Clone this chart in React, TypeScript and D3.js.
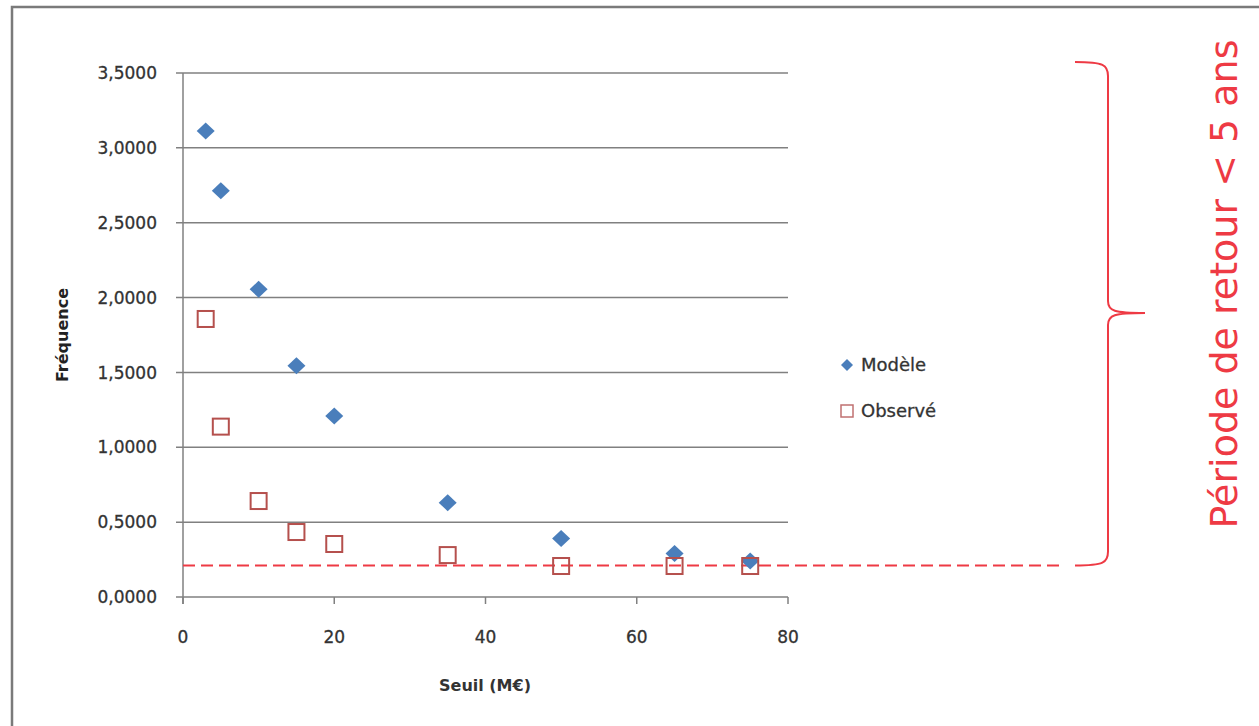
import React from "react";
import * as d3 from "d3";

// Seuil (M€) and the frequencies of each series
const seuils = [3, 5, 10, 15, 20, 35, 50, 65, 75];
const modele = [3.113, 2.714, 2.055, 1.545, 1.209, 0.63, 0.39, 0.29, 0.24];
const observe = [1.857, 1.138, 0.641, 0.434, 0.354, 0.28, 0.207, 0.207, 0.207];
const yTicks = [0, 0.5, 1, 1.5, 2, 2.5, 3, 3.5];
const xTicks = [0, 20, 40, 60, 80];
const seuilFrequence = 0.21; // frequency for a 5-year return period
const seriesNames = ["Modèle", "Observé"];
const annotation = "Période de retour < 5 ans";

const W = 1259;
const H = 726;
const FONT = "'DejaVu Sans', sans-serif";
const BLUE = "#4a7ebb";
const BROWN = "#b5504d";
const RED = "#ee3a44";
const GRID = "#808080";
const TEXT = "#333333";

const fmt = (v: number) => d3.format(".4f")(v).replace(".", ",");

export default function App() {
  const x = d3.scaleLinear().domain([0, 80]).range([183, 788]);
  const y = d3.scaleLinear().domain([0, 3.5]).range([597, 73]);

  const diamond = (cx: number, cy: number, w: number, h: number) =>
    `M${cx},${cy - h / 2}L${cx + w / 2},${cy}L${cx},${cy + h / 2}L${cx - w / 2},${cy}Z`;

  // right curly brace spanning from the top of the plot down to the threshold line
  const bTop = 62;
  const bBot = y(seuilFrequence);
  const bMid = 313;
  const bx0 = 1075;
  const bx1 = 1108;
  const bTip = 1145;
  const brace = d3.path();
  brace.moveTo(bx0, bTop);
  brace.bezierCurveTo(bx1 - 4, bTop, bx1, bTop + 3, bx1, bTop + 14);
  brace.lineTo(bx1, bMid - 12);
  brace.bezierCurveTo(bx1, bMid - 2, bx1 + 6, bMid, bTip, bMid);
  brace.bezierCurveTo(bx1 + 6, bMid, bx1, bMid + 2, bx1, bMid + 12);
  brace.lineTo(bx1, bBot - 14);
  brace.bezierCurveTo(bx1, bBot - 3, bx1 - 4, bBot, bx0, bBot);

  return (
    <svg
      width={W}
      height={H}
      style={{ position: "absolute", left: 0, top: 0, background: "#fff" }}
      fontFamily={FONT}
    >
      <rect x={0} y={0} width={W} height={H} fill="#fff" />
      {/* chart frame */}
      <path d={`M12,${H + 5}L12,7L${W + 5},7`} fill="none" stroke="#7a7a7a" strokeWidth={2.5} />

      {/* horizontal gridlines and y ticks */}
      {yTicks.map((t) => (
        <g key={`y${t}`}>
          <line x1={176} x2={x(80)} y1={y(t)} y2={y(t)} stroke={GRID} strokeWidth={1.5} />
          <text
            x={157}
            y={y(t)}
            dy="0.36em"
            textAnchor="end"
            fontSize={17}
            fill={TEXT}
            stroke={TEXT}
            strokeWidth={0.3}
          >
            {fmt(t)}
          </text>
        </g>
      ))}
      {/* y axis */}
      <line x1={x(0)} x2={x(0)} y1={y(3.5)} y2={y(0) + 7} stroke={GRID} strokeWidth={1.5} />
      {/* x ticks */}
      {xTicks.map((t) => (
        <g key={`x${t}`}>
          <line x1={x(t)} x2={x(t)} y1={y(0)} y2={y(0) + 7} stroke={GRID} strokeWidth={1.5} />
          <text
            x={x(t)}
            y={637}
            dy="0.36em"
            textAnchor="middle"
            fontSize={17}
            fill={TEXT}
            stroke={TEXT}
            strokeWidth={0.3}
          >
            {t}
          </text>
        </g>
      ))}

      {/* axis titles */}
      <text
        transform={`translate(62,335) rotate(-90)`}
        textAnchor="middle"
        dy="0.36em"
        fontSize={16}
        fontWeight="bold"
        fill="#222"
      >
        Fréquence
      </text>
      <text x={485} y={685} dy="0.36em" textAnchor="middle" fontSize={16} fontWeight="bold" fill="#333">
        Seuil (M€)
      </text>

      {/* threshold line */}
      <line
        x1={x(0)}
        x2={1063}
        y1={y(seuilFrequence)}
        y2={y(seuilFrequence)}
        stroke={RED}
        strokeWidth={2}
        strokeDasharray="12,6"
      />

      {/* Modèle */}
      {seuils.map((s, i) => (
        <path key={`m${i}`} d={diamond(x(s), y(modele[i]), 18, 17)} fill={BLUE} />
      ))}
      {/* Observé */}
      {seuils.map((s, i) => (
        <rect
          key={`o${i}`}
          x={x(s) - 8}
          y={y(observe[i]) - 8}
          width={16}
          height={16}
          fill="none"
          stroke={BROWN}
          strokeWidth={2}
        />
      ))}

      {/* legend */}
      <path d={diamond(847, 365, 12, 12)} fill={BLUE} />
      <text x={861} y={365} dy="0.36em" fontSize={18} fill={TEXT} stroke={TEXT} strokeWidth={0.3}>
        {seriesNames[0]}
      </text>
      <rect x={841} y={405} width={12} height={12} fill="none" stroke="#c07070" strokeWidth={1.5} />
      <text x={861} y={411} dy="0.36em" fontSize={18} fill={TEXT} stroke={TEXT} strokeWidth={0.3}>
        {seriesNames[1]}
      </text>

      {/* brace and annotation */}
      <path d={brace.toString()} fill="none" stroke={RED} strokeWidth={2} />
      <text
        transform={`translate(1237,284) rotate(-90)`}
        textAnchor="middle"
        fontSize={38}
        fill={RED}
      >
        {annotation}
      </text>
    </svg>
  );
}
